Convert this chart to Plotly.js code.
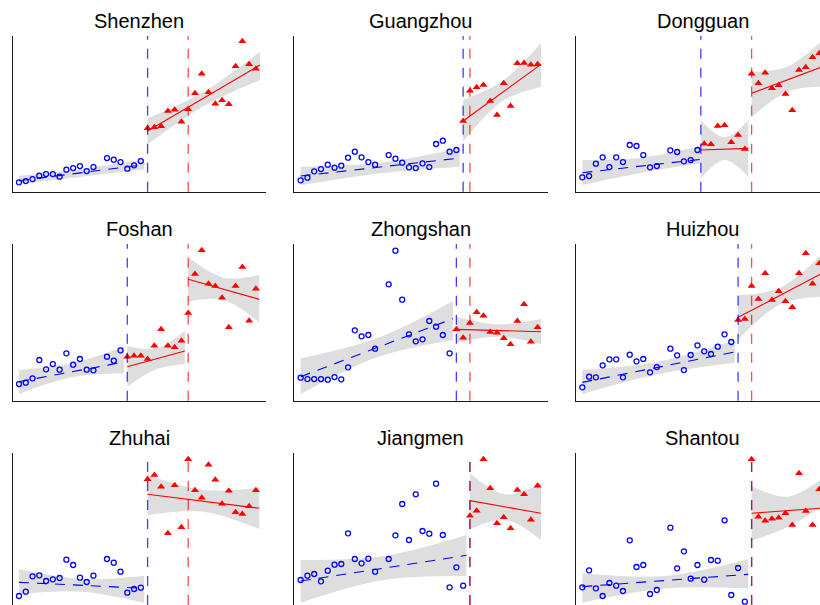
<!DOCTYPE html>
<html><head><meta charset="utf-8">
<script src="https://cdn.plot.ly/plotly-3.0.1.min.js"></script>
<style>html,body{margin:0;padding:0;background:#fff}#chart{width:820px;height:605px}</style>
</head><body><div id="chart"></div>
<script>
// period index (t = 12 missing in every city)
const periods = [0,1,2,3,4,5,6,7,8,9,10,11,12,13,14,15,16,17,18,19,20,21,22,23,24,25,26,27,28,29,30,31,32,33,34,35];
const cities = ['Shenzhen','Guangzhou','Dongguan','Foshan','Zhongshan','Huizhou','Zhuhai','Jiangmen','Shantou'];

// observed values (arbitrary units, no scale shown)
const shenzhenY  = [28,32,38,48,53,53,45,66,71,77,62,74,null,101,96,89,69,79,92,190,193,196,242,246,210,247,295,354,298,264,274,262,376,451,382,369];
const guangzhouY = [34,42,61,68,81,72,78,102,120,103,89,81,null,110,99,87,73,71,85,74,143,153,120,125,212,303,313,320,272,230,325,257,385,386,381,382];
const dongguanY  = [43,47,84,103,74,103,89,140,137,110,73,77,null,124,119,91,95,125,144,142,197,199,148,170,128,354,325,357,310,319,293,244,365,373,403,415];
const foshanY    = [50,54,67,122,94,110,93,142,108,125,93,91,null,132,120,151,132,135,135,125,165,214,165,160,180,263,380,451,351,344,309,220,344,401,240,336];
const zhongshanY = [69,65,65,65,63,71,64,100,211,193,197,156,null,349,450,303,199,178,184,239,222,197,142,214,189,233,265,255,206,204,187,169,239,289,177,220];
const huizhouY   = [40,72,70,106,124,124,70,138,118,125,85,101,null,156,136,92,137,166,148,140,162,199,176,242,245,344,305,382,302,328,298,280,382,442,351,412];
const zhuhaiY    = [39,52,98,101,84,89,93,148,132,94,81,100,null,150,139,112,49,60,64,389,402,367,227,371,245,449,356,334,433,388,316,355,290,285,308,356];
const jiangmenY  = [87,100,105,83,115,133,135,227,150,137,151,112,null,150,221,315,207,344,234,226,376,222,65,125,70,280,295,449,362,257,275,242,357,344,268,370];
const shantouY   = [65,116,62,39,78,70,54,206,126,132,45,57,null,244,122,173,91,132,88,147,145,266,42,123,22,449,277,265,271,274,287,252,407,294,252,359];

// [first intervention (blue), second intervention (red)]
const shenzhenBreaks  = [19, 25];
const guangzhouBreaks = [24, 25];
const dongguanBreaks  = [17.5, 25];
const foshanBreaks    = [16, 25];
const zhongshanBreaks = [23, 25];
const huizhouBreaks   = [23, 25];
const zhuhaiBreaks    = [19, 25];
const jiangmenBreaks  = [25, 25];
const shantouBreaks   = [25, 25];

// fitted segments: t range, fitted value at ends, CI lower/upper at start, middle, end
const shenzhenFits = [
  {t:[0,18.5],  fit:[33,81],   lo:[23,45,67],    hi:[48,68,97]},
  {t:[19,35.6], fit:[182,380], lo:[142,257,335], hi:[220,300,420]}];
const guangzhouFits = [
  {t:[0,23.5],  fit:[47,101],  lo:[19,55,75],    hi:[75,87,130]},
  {t:[24,35.5], fit:[212,382], lo:[150,271,315], hi:[275,331,447]}];
const dongguanFits = [
  {t:[0,17.5],    fit:[57,97],   lo:[20,57,85],    hi:[95,102,137]},
  {t:[17.5,24.5], fit:[125,130], lo:[40,95,45],    hi:[215,163,215]},
  {t:[25,35.5],   fit:[295,375], lo:[223,300,315], hi:[360,375,455]}];
const foshanFits = [
  {t:[0,15.5],  fit:[57,116],  lo:[20,70,82],    hi:[92,112,162]},
  {t:[16,24.5], fit:[102,149], lo:[42,94,110],   hi:[164,157,210]},
  {t:[25,35.5], fit:[364,304], lo:[297,302,234], hi:[430,369,377]}];
const zhongshanFits = [
  {t:[0,22.5],  fit:[72,246],  lo:[20,130,182],  hi:[127,187,299]},
  {t:[23,35.5], fit:[214,207], lo:[174,192,169], hi:[252,229,245]}];
const huizhouFits = [
  {t:[0,22.5],  fit:[55,146],  lo:[20,80,114],   hi:[92,117,182]},
  {t:[23,35.5], fit:[250,383], lo:[184,289,312], hi:[317,339,442]}];
const zhuhaiFits = [
  {t:[0,18.5],  fit:[80,62],   lo:[45,52,19],    hi:[120,90,100]},
  {t:[19,35.5], fit:[344,302], lo:[282,292,240], hi:[402,357,364]}];
const jiangmenFits = [
  {t:[0,24.5],  fit:[84,161],  lo:[19,87,99],    hi:[147,159,222]},
  {t:[25,35.5], fit:[325,287], lo:[239,268,207], hi:[407,344,377]}];
const shantouFits = [
  {t:[0,24.5],  fit:[67,104],  lo:[19,62,62],    hi:[107,99,149]},
  {t:[25,35.5], fit:[287,303], lo:[205,245,307], hi:[369,337,392]}];

const values = [shenzhenY,guangzhouY,dongguanY,foshanY,zhongshanY,huizhouY,zhuhaiY,jiangmenY,shantouY];
const breaks = [shenzhenBreaks,guangzhouBreaks,dongguanBreaks,foshanBreaks,zhongshanBreaks,huizhouBreaks,zhuhaiBreaks,jiangmenBreaks,shantouBreaks];
const fits = [shenzhenFits,guangzhouFits,dongguanFits,foshanFits,zhongshanFits,huizhouFits,zhuhaiFits,jiangmenFits,shantouFits];

// ---- layout geometry ----
const W = 820, H = 605;
const colPx = [[12.7,265.7],[294.3,547.7],[576,820]];
const rowPx = [[36,191.7],[244,400.7],[453.3,605]];
const colRanges = [[-0.93,36.45],[-0.94,36.49],[-0.935,35.1]];
const rowRanges = [[0,467],[0,470],[12,467]];
const titleY = [21,229,438];

const BLUE = '#0000FF', RED = '#FF0000', BAND = 'rgb(222,222,222)';
const traces = [], lineTraces = [], pointTraces = [], shapes = [], annotations = [];
const layout = {
  width: W, height: H, margin: {l:0,r:0,t:0,b:0},
  paper_bgcolor: '#fff', plot_bgcolor: '#fff', showlegend: false
};

cities.forEach((city, k) => {
  const r = Math.floor(k/3), c = k % 3;
  const xs = k === 0 ? 'x' : 'x' + (k+1);
  const ys = k === 0 ? 'y' : 'y' + (k+1);
  const xk = k === 0 ? 'xaxis' : 'xaxis' + (k+1);
  const yk = k === 0 ? 'yaxis' : 'yaxis' + (k+1);
  layout[xk] = {
    domain: [colPx[c][0]/W, colPx[c][1]/W], range: colRanges[c], anchor: ys,
    showline: r < 2, linecolor: '#1a1a1a', linewidth: 1.2,
    showticklabels: false, ticks: '', showgrid: false, zeroline: false, fixedrange: true
  };
  layout[yk] = {
    domain: [1 - rowPx[r][1]/H, 1 - rowPx[r][0]/H], range: rowRanges[r], anchor: xs,
    showline: true, linecolor: '#1a1a1a', linewidth: 1.2,
    showticklabels: false, ticks: '', showgrid: false, zeroline: false, fixedrange: true
  };
  annotations.push({
    text: city, xref: 'paper', yref: 'paper', showarrow: false,
    x: (colPx[c][0] + Math.min(colPx[c][0] + 253, 829))/2/W, xanchor: 'center',
    y: 1 - titleY[r]/H, yanchor: 'middle',
    font: {family: 'Liberation Sans, Arial, sans-serif', size: 20, color: '#000'}
  });

  // bands + fit lines
  fits[k].forEach((seg, si) => {
    const tm = (seg.t[0] + seg.t[1]) / 2;
    const ts = [seg.t[0], tm, seg.t[1]];
    traces.push({type:'scatter', mode:'lines', x: ts, y: seg.lo, xaxis: xs, yaxis: ys,
      line: {width: 0, shape: 'spline'}, hoverinfo: 'skip'});
    traces.push({type:'scatter', mode:'lines', x: ts, y: seg.hi, xaxis: xs, yaxis: ys,
      line: {width: 0, shape: 'spline'}, fill: 'tonexty', fillcolor: BAND, hoverinfo: 'skip'});
    const pre = si === 0;
    lineTraces.push({type:'scatter', mode:'lines', x: seg.t, y: seg.fit, xaxis: xs, yaxis: ys,
      line: {color: pre ? BLUE : RED, width: 1.1, dash: pre ? '10px,8px' : 'solid'}, hoverinfo: 'skip'});
  });

  // points
  const b = breaks[k][0];
  const preX = [], preY = [], postX = [], postY = [];
  periods.forEach((t, i) => {
    const v = values[k][i];
    if (v === null) return;
    if (t < b) { preX.push(t); preY.push(v); } else { postX.push(t); postY.push(v); }
  });
  pointTraces.push({type:'scatter', mode:'markers', x: preX, y: preY, xaxis: xs, yaxis: ys,
    marker: {symbol: 'circle-open', size: 5, color: BLUE, line: {width: 1.3, color: BLUE}}});
  pointTraces.push({type:'scatter', mode:'markers', x: postX, y: postY, xaxis: xs, yaxis: ys,
    marker: {symbol: 'triangle-up', size: 7, color: RED}});

  // intervention lines
  const yd = (k === 0 ? 'y' : 'y' + (k+1)) + ' domain';
  shapes.push({type:'line', xref: xs, yref: yd, x0: breaks[k][0], x1: breaks[k][0], y0: 0, y1: 1,
    opacity: 0.75, line: {color: BLUE, width: 1.3, dash: '10px,9px'}});
  shapes.push({type:'line', xref: xs, yref: yd, x0: breaks[k][1], x1: breaks[k][1], y0: 0, y1: 1,
    opacity: 0.7, line: {color: RED, width: 1.3, dash: '10px,9px'}});
});

layout.shapes = shapes;
layout.annotations = annotations;
Plotly.newPlot('chart', traces.concat(lineTraces, pointTraces), layout, {staticPlot: true});
</script></body></html>
